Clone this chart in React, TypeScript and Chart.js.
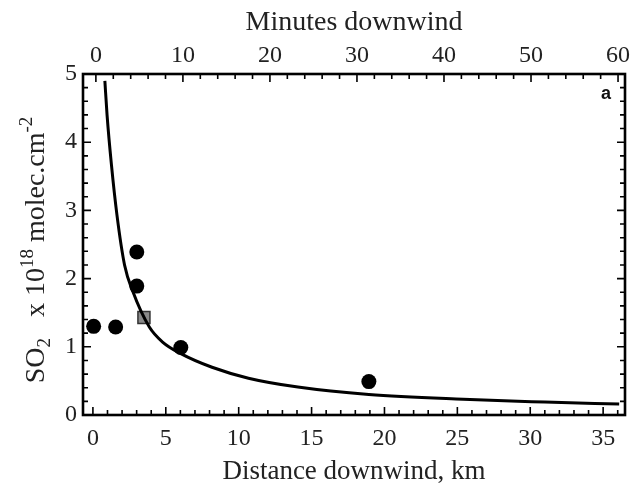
import React, { useEffect, useRef } from "react";
import { Chart, registerables } from "chart.js";

Chart.register(...registerables);

// Fitted curve
const curveKm = [0.82, 0.97, 1.27, 1.65, 2.17, 2.74, 3.87, 4.78, 6.03, 8.17, 10.67, 14.06, 18.93, 25.4, 31.0, 36.1];
const curveSO2 = [4.9, 4.4, 3.67, 2.93, 2.2, 1.81, 1.29, 1.07, 0.9, 0.7, 0.54, 0.41, 0.3, 0.23, 0.19, 0.16];

// Observations (black dots)
const obsKm = [0.05, 1.56, 3.01, 3.01, 6.03, 18.93];
const obsSO2 = [1.3, 1.29, 2.39, 1.89, 0.99, 0.49];

// Grey square
const squareKm = [3.5];
const squareSO2 = [1.43];

// Tick labels
const kmTicks = [0, 5, 10, 15, 20, 25, 30, 35];
const minuteTicks = [0, 10, 20, 30, 40, 50, 60];
const so2Ticks = [0, 1, 2, 3, 4, 5];

const SERIF = "'Liberation Serif', 'Times New Roman', serif";

const framePlugin = {
  id: "frameTicks",
  afterDraw(chart: any) {
    const ctx = chart.ctx;
    const { left, right, top, bottom } = chart.chartArea;
    const x = chart.scales.x;
    const x2 = chart.scales.x2;
    const y = chart.scales.y;
    ctx.save();
    ctx.strokeStyle = "#000";
    // ticks
    ctx.lineWidth = 1.6;
    ctx.beginPath();
    for (let v = 0; v <= 36; v += 1) {
      const px = x.getPixelForValue(v);
      const len = v % 5 === 0 ? 8 : 5;
      ctx.moveTo(px, bottom);
      ctx.lineTo(px, bottom - len);
    }
    for (let v = 0; v <= 60; v += 2) {
      const px = x2.getPixelForValue(v);
      const len = v % 10 === 0 ? 8 : 5;
      ctx.moveTo(px, top);
      ctx.lineTo(px, top + len);
    }
    for (let i = 0; i <= 25; i++) {
      const v = i * 0.2;
      const py = y.getPixelForValue(v);
      const len = i % 5 === 0 ? 8 : 5;
      ctx.moveTo(left, py);
      ctx.lineTo(left + len, py);
      ctx.moveTo(right, py);
      ctx.lineTo(right - len, py);
    }
    ctx.stroke();
    // frame
    ctx.lineWidth = 2.6;
    ctx.strokeRect(left, top, right - left, bottom - top);

    // panel letter
    ctx.fillStyle = "#111";
    ctx.font = "bold 18px 'Liberation Sans', Arial, sans-serif";
    ctx.textAlign = "center";
    ctx.textBaseline = "alphabetic";
    ctx.fillText("a", 606, 99);

    // y-axis title with sub/superscripts
    const big = `28px ${SERIF}`;
    const small = `19px ${SERIF}`;
    const parts: [string, string, number][] = [
      ["SO", big, 0],
      ["2", small, 6],
      ["   x 10", big, 0],
      ["18", small, -11],
      [" molec.cm", big, 0],
      ["-2", small, -12],
    ];
    let total = 0;
    const widths: number[] = [];
    for (const [t, f] of parts) {
      ctx.font = f;
      const w = ctx.measureText(t).width;
      widths.push(w);
      total += w;
    }
    ctx.translate(44, 250);
    ctx.rotate(-Math.PI / 2);
    ctx.fillStyle = "#222";
    ctx.textAlign = "left";
    let cx = -total / 2;
    parts.forEach(([t, f, dy], i) => {
      ctx.font = f;
      ctx.fillText(t, cx, dy);
      cx += widths[i];
    });
    ctx.restore();
  },
};

export default function App() {
  const ref = useRef<HTMLCanvasElement | null>(null);

  useEffect(() => {
    document.body.style.margin = "0";
    const canvas = ref.current;
    if (!canvas) return;
    const tickFont = { family: SERIF, size: 24 };
    const chart = new Chart(canvas, {
      type: "scatter",
      data: {
        datasets: [
          {
            label: "fit",
            data: curveKm.map((k, i) => ({ x: k, y: curveSO2[i] })),
            showLine: true,
            pointRadius: 0,
            borderColor: "#000",
            borderWidth: 3,
            cubicInterpolationMode: "monotone",
            xAxisID: "x",
            yAxisID: "y",
          },
          {
            label: "obs",
            data: obsKm.map((k, i) => ({ x: k, y: obsSO2[i] })),
            pointRadius: 7.5,
            pointBackgroundColor: "#000",
            pointBorderColor: "#000",
            pointBorderWidth: 0,
            xAxisID: "x",
            yAxisID: "y",
          },
          {
            label: "sq",
            data: squareKm.map((k, i) => ({ x: k, y: squareSO2[i] })),
            pointStyle: "rect",
            pointRadius: 8.5,
            pointBackgroundColor: "#8a8a8a",
            pointBorderColor: "#333",
            pointBorderWidth: 1.5,
            xAxisID: "x",
            yAxisID: "y",
          },
        ],
      },
      options: {
        responsive: false,
        animation: false,
        devicePixelRatio: 1,
        layout: { padding: { right: 5 } },
        plugins: { legend: { display: false }, tooltip: { enabled: false } },
        scales: {
          x: {
            type: "linear",
            position: "bottom",
            min: -0.68,
            max: 36.5,
            afterBuildTicks: (s: any) => {
              s.ticks = kmTicks.map((v) => ({ value: v }));
            },
            afterFit: (s: any) => {
              s.height = 76;
            },
            grid: { display: false, tickLength: 0 },
            border: { display: false },
            ticks: { font: tickFont, color: "#222", padding: 9, maxRotation: 0, autoSkip: false },
            title: {
              display: true,
              text: "Distance downwind, km",
              font: { family: SERIF, size: 27 },
              color: "#222",
              padding: { top: 0, bottom: 3 },
            },
          },
          x2: {
            type: "linear",
            position: "top",
            min: -1.48,
            max: 60.8,
            afterBuildTicks: (s: any) => {
              s.ticks = minuteTicks.map((v) => ({ value: v }));
            },
            afterFit: (s: any) => {
              s.height = 74;
            },
            grid: { display: false, tickLength: 0 },
            border: { display: false },
            ticks: { font: tickFont, color: "#222", padding: 4, maxRotation: 0, autoSkip: false },
            title: {
              display: true,
              text: "Minutes downwind",
              font: { family: SERIF, size: 28 },
              color: "#222",
              padding: { top: 6, bottom: 0 },
            },
          },
          y: {
            type: "linear",
            position: "left",
            min: 0,
            max: 5,
            afterBuildTicks: (s: any) => {
              s.ticks = so2Ticks.map((v) => ({ value: v }));
            },
            afterFit: (s: any) => {
              s.width = 83;
            },
            grid: { display: false, tickLength: 0 },
            border: { display: false },
            ticks: { font: tickFont, color: "#222", padding: 6, autoSkip: false },
          },
        },
      },
      plugins: [framePlugin],
    } as any);
    return () => chart.destroy();
  }, []);

  return (
    <div style={{ width: 635, height: 491 }}>
      <canvas ref={ref} width={635} height={491} style={{ display: "block" }} />
    </div>
  );
}
